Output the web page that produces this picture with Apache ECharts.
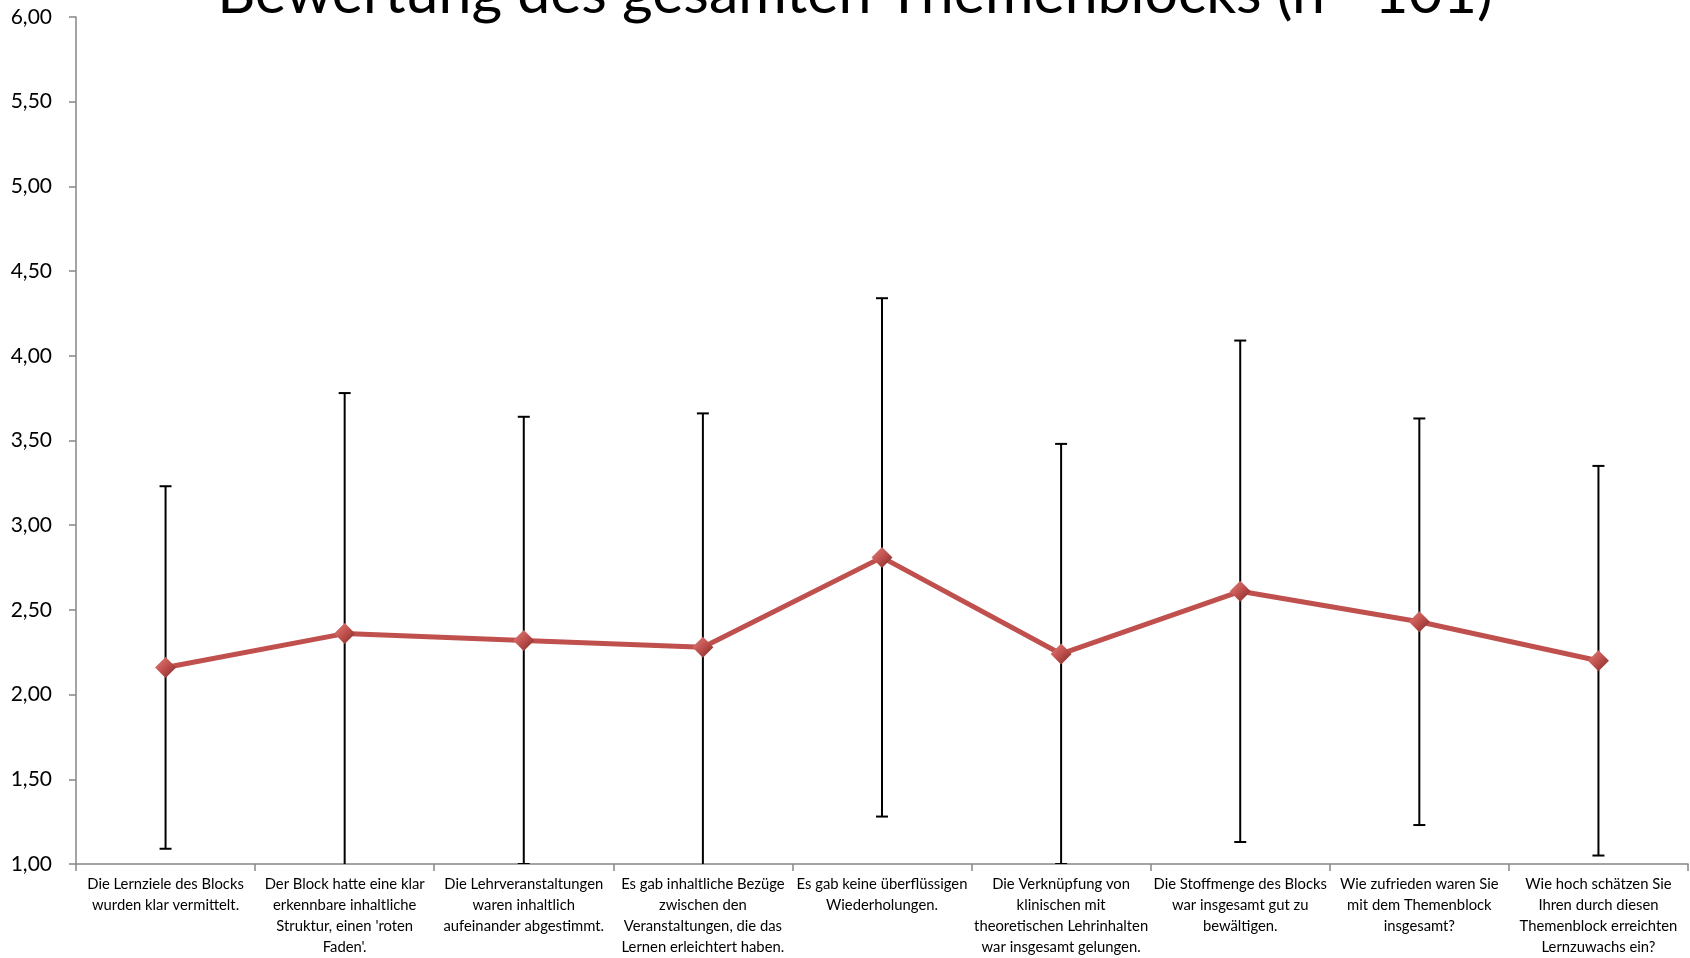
<!DOCTYPE html>
<html>
<head>
<meta charset="utf-8">
<script src="https://cdn.jsdelivr.net/npm/echarts@6/dist/echarts.min.js"></script>
<style>
html,body{margin:0;padding:0;background:#fff;}
#chart{width:1690px;height:958px;}
</style>
</head>
<body>
<div id="chart"></div>
<script>
var titleText = 'Bewertung des gesamten Themenblocks (n =101)';
var categories = [
  'Die Lernziele des Blocks\nwurden klar vermittelt.',
  'Der Block hatte eine klar\nerkennbare inhaltliche\nStruktur, einen \'roten\nFaden\'.',
  'Die Lehrveranstaltungen\nwaren inhaltlich\naufeinander abgestimmt.',
  'Es gab inhaltliche Bezüge\nzwischen den\nVeranstaltungen, die das\nLernen erleichtert haben.',
  'Es gab keine überflüssigen\nWiederholungen.',
  'Die Verknüpfung von\nklinischen mit\ntheoretischen Lehrinhalten\nwar insgesamt gelungen.',
  'Die Stoffmenge des Blocks\nwar insgesamt gut zu\nbewältigen.',
  'Wie zufrieden waren Sie\nmit dem Themenblock\ninsgesamt?',
  'Wie hoch schätzen Sie\nIhren durch diesen\nThemenblock erreichten\nLernzuwachs ein?'
];
var means = [2.16, 2.36, 2.32, 2.28, 2.81, 2.24, 2.61, 2.43, 2.20];
var upper = [3.23, 3.78, 3.64, 3.66, 4.34, 3.48, 4.09, 3.63, 3.35];
var lower = [1.09, 0.94, 1.00, 0.90, 1.28, 1.00, 1.13, 1.23, 1.05];

var errData = categories.map(function(c, i){ return [i, lower[i], upper[i]]; });

var chart = echarts.init(document.getElementById('chart'), null, {renderer:'canvas'});
var FONT = 'Lato, "Liberation Sans", sans-serif';
var option = {
  animation: false,
  backgroundColor: '#fff',
  title: {
    text: titleText,
    left: 850,
    textAlign: 'center',
    top: -41,
    textStyle: {fontSize: 59, fontWeight: 'normal', fontFamily: FONT, color: '#000'}
  },
  grid: {left: 76, right: 2, top: 17, bottom: 86, containLabel: false},
  xAxis: {
    type: 'category',
    data: categories,
    boundaryGap: true,
    axisLine: {lineStyle: {color: '#868686', width: 1.5}},
    axisTick: {show: true, length: 7, lineStyle: {color: '#868686', width: 1.5}},
    axisLabel: {interval: 0, margin: 10, fontSize: 14.8, lineHeight: 21, color: '#000', fontFamily: FONT, align: 'center'},
    splitLine: {show: false}
  },
  yAxis: {
    type: 'value',
    min: 1, max: 6, interval: 0.5,
    axisLine: {show: true, lineStyle: {color: '#868686', width: 1.5}},
    axisTick: {show: true, length: 7, lineStyle: {color: '#868686', width: 1.5}},
    axisLabel: {fontSize: 21, color: '#000', fontFamily: FONT, margin: 24,
      formatter: function(v){ return v.toFixed(2).replace('.', ','); }},
    splitLine: {show: false}
  },
  series: [
    {
      type: 'custom',
      z: 2,
      clip: true,
      data: errData,
      encode: {x: 0, y: [1, 2]},
      renderItem: function(params, api){
        var x = api.value(0);
        var lo = api.coord([x, api.value(1)]);
        var hi = api.coord([x, api.value(2)]);
        var hw = 6;
        var st = {stroke: '#000', lineWidth: 2};
        return {type: 'group', children: [
          {type: 'line', shape: {x1: lo[0], y1: lo[1], x2: hi[0], y2: hi[1]}, style: st},
          {type: 'line', shape: {x1: lo[0]-hw, y1: lo[1], x2: lo[0]+hw, y2: lo[1]}, style: st},
          {type: 'line', shape: {x1: hi[0]-hw, y1: hi[1], x2: hi[0]+hw, y2: hi[1]}, style: st}
        ]};
      }
    },
    {
      type: 'line',
      z: 3,
      data: means,
      symbol: 'diamond',
      symbolSize: 21,
      lineStyle: {color: '#C0504D', width: 5},
      itemStyle: {
        color: new echarts.graphic.LinearGradient(0, 0, 1, 1, [
          {offset: 0, color: '#E0807C'},
          {offset: 0.5, color: '#C0504D'},
          {offset: 1, color: '#7A2927'}
        ])
      }
    }
  ]
};
chart.setOption(option);
</script>
</body>
</html>
